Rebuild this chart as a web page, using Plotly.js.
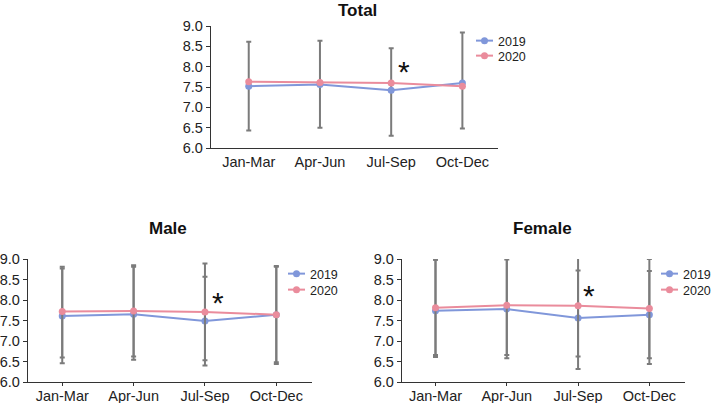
<!DOCTYPE html>
<html>
<head>
<meta charset="utf-8">
<script src="https://cdn.plot.ly/plotly-3.0.1.min.js"></script>
<style>html,body{margin:0;padding:0;background:#fff;overflow:hidden;}#chart{width:712px;height:403px;}</style>
</head>
<body>
<div id="chart"></div>
<script>
const categories = ['Jan-Mar', 'Apr-Jun', 'Jul-Sep', 'Oct-Dec'];
const seriesNames = ['2019', '2020'];
const panelTitles = ['Total', 'Male', 'Female'];

const total2019 = [7.52, 7.56, 7.42, 7.60];
const total2019Plus = [1.09, 1.08, 1.03, 1.24];
const total2019Minus = [1.09, 1.06, 1.12, 1.12];
const total2020 = [7.63, 7.61, 7.60, 7.52];

const male2019 = [7.61, 7.65, 7.49, 7.64];
const male2019Plus = [1.16, 1.16, 1.08, 1.17];
const male2019Minus = [1.15, 1.11, 1.09, 1.16];
const male2020 = [7.72, 7.73, 7.71, 7.64];
const male2020Plus = [1.09, 1.12, 1.18, 1.19];
const male2020Minus = [1.12, 1.11, 1.18, 1.20];

const female2019 = [7.74, 7.78, 7.56, 7.64];
const female2019Plus = [1.24, 1.21, 1.16, 1.07];
const female2019Minus = [1.13, 1.20, 1.24, 1.20];
const female2020 = [7.81, 7.87, 7.86, 7.79];
const female2020Plus = [1.18, 1.22, 1.25, 1.21];
const female2020Minus = [1.15, 1.21, 1.24, 1.21];

const sigMarkY = [8.05, 8.1, 8.28];   // asterisk heights (significance marker at Jul-Sep)

const blue = '#8097da';
const pink = '#ea8c9c';
const gray = '#7b7b7b';
const font = 'Liberation Sans, Arial, Helvetica, sans-serif';

const xIdx = categories.map((c, i) => i);

function trace(y, plus, minus, name, color, xa, ya, legend, showErr) {
  return {
    x: xIdx, y: y, name: name, type: 'scatter', mode: 'lines+markers',
    xaxis: xa, yaxis: ya, legend: legend,
    line: {color: color, width: 2},
    marker: {color: color, size: 7, line: {color: color, width: 0}},
    error_y: showErr ? {type: 'data', symmetric: false, array: plus, arrayminus: minus,
      color: gray, thickness: 2, width: 2.5} : {visible: false}
  };
}

const data = [
  trace(total2019, total2019Plus, total2019Minus, seriesNames[0], blue, 'x', 'y', 'legend', true),
  trace(total2020, null, null, seriesNames[1], pink, 'x', 'y', 'legend2', false),
  trace(male2019, male2019Plus, male2019Minus, seriesNames[0], blue, 'x2', 'y2', 'legend3', true),
  trace(male2020, male2020Plus, male2020Minus, seriesNames[1], pink, 'x2', 'y2', 'legend4', true),
  trace(female2019, female2019Plus, female2019Minus, seriesNames[0], blue, 'x3', 'y3', 'legend5', true),
  trace(female2020, female2020Plus, female2020Minus, seriesNames[1], pink, 'x3', 'y3', 'legend6', true)
];

function xaxis(domain, range, anchor, ticklen) {
  return {
    domain: domain, range: range, anchor: anchor,
    tickmode: 'array', tickvals: xIdx, ticktext: categories,
    showgrid: false, zeroline: false, showline: true, linecolor: '#333', linewidth: 1.2,
    ticks: ticklen > 0 ? 'outside' : '', ticklen: ticklen, tickcolor: '#333',
    ticklabelstandoff: ticklen > 0 ? -ticklen : 0,
    tickfont: {family: font, size: 14.5, color: '#222'}, fixedrange: true, automargin: false
  };
}
function yaxis(domain, anchor) {
  return {
    domain: domain, range: [6, 9], anchor: anchor,
    tickmode: 'linear', tick0: 6, dtick: 0.5, tickformat: '.1f',
    showgrid: false, zeroline: false, showline: true, linecolor: '#333', linewidth: 1.2,
    ticks: 'outside', ticklen: 4, tickcolor: '#333',
    tickfont: {family: font, size: 14.5, color: '#222'}, fixedrange: true, automargin: false
  };
}
function legend(x, y) {
  return {x: x, y: y, xref: 'paper', yref: 'paper', xanchor: 'left', yanchor: 'top',
    bgcolor: 'rgba(0,0,0,0)', font: {family: font, size: 12.5, color: '#222'}, itemwidth: 30};
}

const W = 712, H = 403;
const px = v => v / W, py = v => 1 - v / H;

const layout = {
  width: W, height: H,
  margin: {l: 0, r: 0, t: 0, b: 0, autoexpand: false},
  paper_bgcolor: '#fff', plot_bgcolor: '#fff',
  showlegend: true,
  xaxis: xaxis([px(211), px(498)], [-0.53, 3.5], 'y', 0),
  yaxis: yaxis([py(148), py(26)], 'x'),
  xaxis2: xaxis([px(28), px(312)], [-0.48, 3.5], 'y2', 3),
  yaxis2: yaxis([py(382), py(259)], 'x2'),
  xaxis3: xaxis([px(402), px(685)], [-0.47, 3.5], 'y3', 3),
  yaxis3: yaxis([py(382), py(259)], 'x3'),
  legend: legend(px(458), py(26)),
  legend2: legend(px(458), py(41)),
  legend3: legend(px(270), py(259)),
  legend4: legend(px(270), py(275)),
  legend5: legend(px(643), py(259)),
  legend6: legend(px(643), py(275)),
  annotations: [
    {text: '<b>' + panelTitles[0] + '</b>', x: px(358), y: py(10), xref: 'paper', yref: 'paper',
      xanchor: 'center', yanchor: 'middle', showarrow: false, font: {family: font, size: 17, color: '#111'}},
    {text: '<b>' + panelTitles[1] + '</b>', x: px(168), y: py(228), xref: 'paper', yref: 'paper',
      xanchor: 'center', yanchor: 'middle', showarrow: false, font: {family: font, size: 17, color: '#111'}},
    {text: '<b>' + panelTitles[2] + '</b>', x: px(542), y: py(228), xref: 'paper', yref: 'paper',
      xanchor: 'center', yanchor: 'middle', showarrow: false, font: {family: font, size: 17, color: '#111'}},
    {text: '*', x: 2.18, y: sigMarkY[0], xref: 'x', yref: 'y', showarrow: false,
      font: {family: font, size: 30, color: '#111'}, yshift: -7},
    {text: '*', x: 2.18, y: sigMarkY[1], xref: 'x2', yref: 'y2', showarrow: false,
      font: {family: font, size: 30, color: '#111'}, yshift: -7},
    {text: '*', x: 2.15, y: sigMarkY[2], xref: 'x3', yref: 'y3', showarrow: false,
      font: {family: font, size: 30, color: '#111'}, yshift: -7}
  ]
};

Plotly.newPlot('chart', data, layout, {displayModeBar: false, staticPlot: true}).then(function (gd) {
  // shorten the legend key lines to match the compact keys of the original figure
  gd.querySelectorAll('.legendlines path').forEach(function (p) { p.setAttribute('d', 'M18,0h17'); });
  gd.querySelectorAll('.legendpoints path.scatterpts').forEach(function (p) {
    p.setAttribute('transform', 'translate(26.5,0)');
  });
});
</script>
</body>
</html>
